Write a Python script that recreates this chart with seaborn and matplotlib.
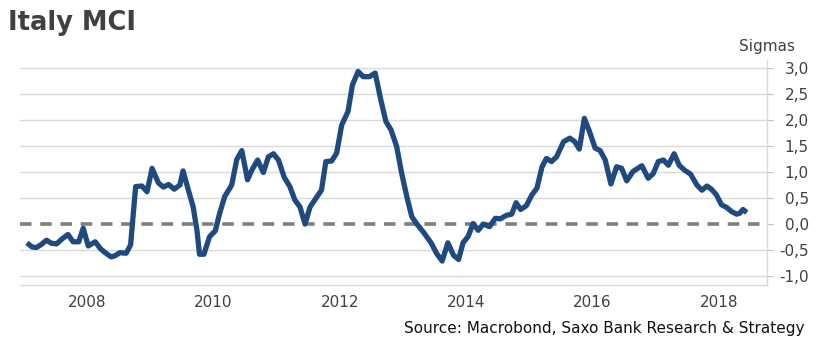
import matplotlib
matplotlib.use("Agg")
import matplotlib.pyplot as plt
import numpy as np
import pandas as pd
import seaborn as sns

# Italy monetary conditions index, in standard deviations (decimal year, value)
dates = [
    2007.05, 2007.13, 2007.20, 2007.28, 2007.36, 2007.44, 2007.52, 2007.60, 2007.70, 2007.78,
    2007.87, 2007.94, 2008.02, 2008.13, 2008.21, 2008.29, 2008.38, 2008.44, 2008.52, 2008.62,
    2008.69, 2008.77, 2008.87, 2008.95, 2009.03, 2009.13, 2009.21, 2009.29, 2009.38, 2009.47,
    2009.52, 2009.60, 2009.68, 2009.74, 2009.78, 2009.85, 2009.94, 2010.03, 2010.10, 2010.18,
    2010.29, 2010.37, 2010.45, 2010.54, 2010.61, 2010.70, 2010.79, 2010.87, 2010.95, 2011.03,
    2011.12, 2011.21, 2011.29, 2011.37, 2011.45, 2011.53, 2011.62, 2011.71, 2011.78, 2011.87,
    2011.95, 2012.03, 2012.13, 2012.20, 2012.29, 2012.37, 2012.47, 2012.56, 2012.65, 2012.73,
    2012.81, 2012.90, 2012.98, 2013.06, 2013.14, 2013.22, 2013.32, 2013.45, 2013.53, 2013.62,
    2013.71, 2013.80, 2013.88, 2013.95, 2014.03, 2014.11, 2014.19, 2014.27, 2014.37, 2014.46,
    2014.54, 2014.64, 2014.72, 2014.79, 2014.86, 2014.95, 2015.04, 2015.12, 2015.20, 2015.27,
    2015.35, 2015.43, 2015.54, 2015.64, 2015.72, 2015.79, 2015.87, 2015.95, 2016.04, 2016.12,
    2016.20, 2016.29, 2016.38, 2016.46, 2016.54, 2016.64, 2016.78, 2016.88, 2016.96, 2017.04,
    2017.12, 2017.20, 2017.29, 2017.37, 2017.46, 2017.55, 2017.65, 2017.73, 2017.81, 2017.88,
    2017.96, 2018.04, 2018.12, 2018.20, 2018.28, 2018.33, 2018.38, 2018.44,
]
sigmas = [
    -0.36, -0.44, -0.45, -0.39, -0.31, -0.37, -0.38, -0.29, -0.20, -0.34,
    -0.34, -0.08, -0.42, -0.34, -0.47, -0.55, -0.63, -0.61, -0.55, -0.56,
    -0.40, 0.72, 0.73, 0.62, 1.07, 0.79, 0.71, 0.76, 0.67, 0.75,
    1.02, 0.67, 0.33, -0.12, -0.58, -0.58, -0.24, -0.13, 0.21, 0.53,
    0.75, 1.24, 1.41, 0.85, 1.04, 1.23, 0.99, 1.29, 1.35, 1.23,
    0.90, 0.72, 0.46, 0.33, 0.00, 0.33, 0.49, 0.65, 1.20, 1.21,
    1.36, 1.90, 2.16, 2.67, 2.93, 2.83, 2.83, 2.90, 2.38, 1.97,
    1.81, 1.49, 0.97, 0.53, 0.14, 0.00, -0.15, -0.37, -0.56, -0.71,
    -0.36, -0.60, -0.68, -0.36, -0.24, 0.01, -0.12, 0.00, -0.05, 0.11,
    0.10, 0.17, 0.19, 0.41, 0.28, 0.35, 0.56, 0.69, 1.10, 1.26,
    1.20, 1.29, 1.58, 1.65, 1.58, 1.44, 2.03, 1.78, 1.46, 1.41,
    1.23, 0.77, 1.10, 1.07, 0.83, 1.01, 1.12, 0.88, 0.97, 1.20,
    1.23, 1.13, 1.35, 1.13, 1.03, 0.96, 0.75, 0.65, 0.73, 0.67,
    0.56, 0.37, 0.32, 0.24, 0.19, 0.21, 0.28, 0.22,
]
year_ticks = [2008, 2010, 2012, 2014, 2016, 2018]
sigma_ticks = [-1.0, -0.5, 0.0, 0.5, 1.0, 1.5, 2.0, 2.5, 3.0]

df = pd.DataFrame({"date": dates, "sigma": sigmas})

sns.set_style("white")
plt.rcParams["font.family"] = ["DejaVu Sans"]

text_col = "#404040"
grid_col = "#d9d9d9"
line_col = "#1f4a80"

fig = plt.figure(figsize=(8.16, 3.48), dpi=100)
ax = fig.add_axes([20 / 816, 1 - 285 / 348, (767 - 20) / 816, (285 - 60) / 348])

for v in sigma_ticks:
    if v != 0.0:
        ax.axhline(v, color=grid_col, lw=1.0, zorder=1)
ax.axhline(0.0, color="#7f7f7f", lw=2.6, dashes=(3.2, 2.4), zorder=2)

sns.lineplot(data=df, x="date", y="sigma", ax=ax, color=line_col, lw=3.8,
             zorder=3, solid_capstyle="butt", solid_joinstyle="round")

ax.set_xlim(2006.94, 2018.76)
ax.set_ylim(-1.17, 3.15)
ax.set_xlabel("")
ax.set_ylabel("")

ax.set_xticks(year_ticks)
ax.set_xticklabels([str(y) for y in year_ticks])
ax.set_yticks(sigma_ticks)
ax.set_yticklabels([f"{v:.1f}".replace(".", ",") for v in sigma_ticks])

ax.yaxis.tick_right()
ax.tick_params(axis="y", which="both", direction="out", length=4, width=0.8,
               color="#bfbfbf", labelcolor=text_col, labelsize=11, pad=26)
for lbl in ax.get_yticklabels():
    lbl.set_horizontalalignment("right")
ax.tick_params(axis="x", direction="out", length=4, width=0.8, color="#a6a6a6",
               labelcolor=text_col, labelsize=11, pad=3)

for side in ["top", "left"]:
    ax.spines[side].set_visible(False)
for side in ["right", "bottom"]:
    ax.spines[side].set_visible(True)
    ax.spines[side].set_color(grid_col)
    ax.spines[side].set_linewidth(1.0)

fig.text(8 / 816, 1 - 23 / 348, "Italy MCI", fontsize=18.5, fontweight="bold",
         color=text_col, ha="left", va="center")
fig.text(795 / 816, 1 - 47 / 348, "Sigmas", fontsize=11, color=text_col,
         ha="right", va="center")
fig.text(805 / 816, 1 - 328 / 348, "Source: Macrobond, Saxo Bank Research & Strategy",
         fontsize=11, color="#111111", ha="right", va="center")

fig.savefig("out.png", dpi=100)
